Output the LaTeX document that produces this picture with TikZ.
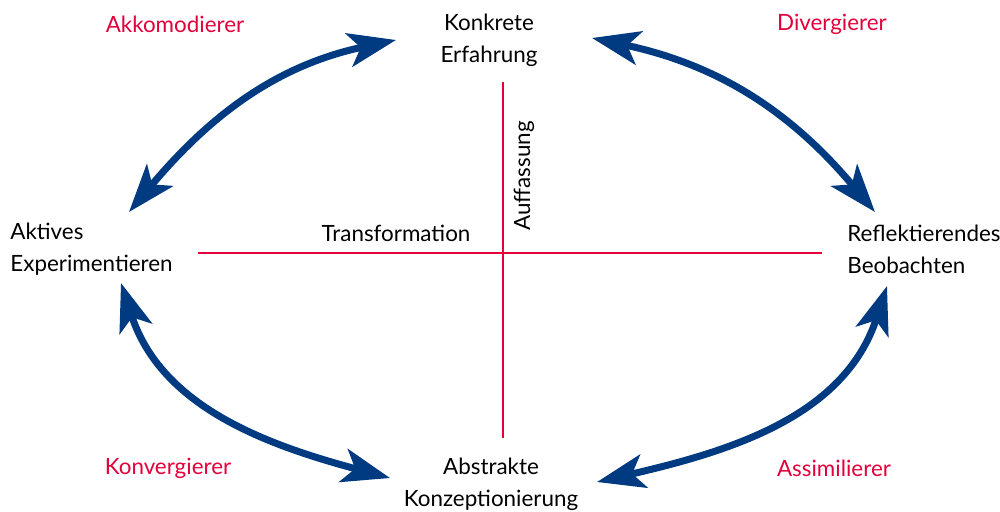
\documentclass[tikz,border=0pt]{standalone}
\usepackage{fontspec}
\setmainfont{Lato}
\usetikzlibrary{arrows.meta}
\definecolor{kolbblue}{RGB}{0,58,128}
\definecolor{kolbred}{RGB}{226,0,58}
\begin{document}
\begin{tikzpicture}[x=0.5pt,y=0.5pt,
  every node/.style={inner sep=0pt, font=\fontsize{11.2}{16}\selectfont},
  stage/.style={align=center, text=black},
  style/.style={text=kolbred},
  axis/.style={kolbred, line width=1.1pt},
  cycle/.style={kolbblue, line width=3.5pt,
    {Stealth[length=24pt 0, width=17pt 0, inset=6pt 0]}-{Stealth[length=24pt 0, width=17pt 0, inset=6pt 0]}}]
\useasboundingbox (0,0) rectangle (1000,511);
\node[stage] (konkret) at (489,471) {Konkrete\\Erfahrung};
\node[stage] (abstrakt) at (491,27) {Abstrakte\\Konzeptionierung};
\node[stage, anchor=west, align=left] (aktiv) at (10,262) {Aktives\\Experimentieren};
\node[stage, anchor=west, align=left] (reflekt) at (847,262) {Reflektierendes\\Beobachten};
\node[style] (akko) at (175,487) {Akkomodierer};
\node[style] (diver) at (832,487) {Divergierer};
\node[style] (konver) at (168,43) {Konvergierer};
\node[style] (assim) at (834,43) {Assimilierer};
\node (trans) at (396,278) {Transformation};
\node[rotate=90] (auff) at (524,335) {Auffassung};
% axes
\coordinate (hl) at (198,258);
\coordinate (hr) at (822,258);
\coordinate (vt) at (503,429);
\coordinate (vb) at (503,73);
\draw[axis] (hl) -- (hr);
\draw[axis] (vt) -- (vb);
% arrow ends
\coordinate (tl1) at (129,299);
\coordinate (tl2) at (396,471);
\coordinate (tr1) at (592,473);
\coordinate (tr2) at (875,299);
\coordinate (bl1) at (121,228);
\coordinate (bl2) at (390,33);
\coordinate (br1) at (887,225);
\coordinate (br2) at (597,29);
\draw[cycle] (tl1) to[out=50,in=192] (tl2);
\draw[cycle] (tr1) to[out=-12,in=130] (tr2);
\draw[cycle] (bl1) to[out=-72,in=165] (bl2);
\draw[cycle] (br1) to[out=-108,in=13] (br2);
\end{tikzpicture}
\end{document}
